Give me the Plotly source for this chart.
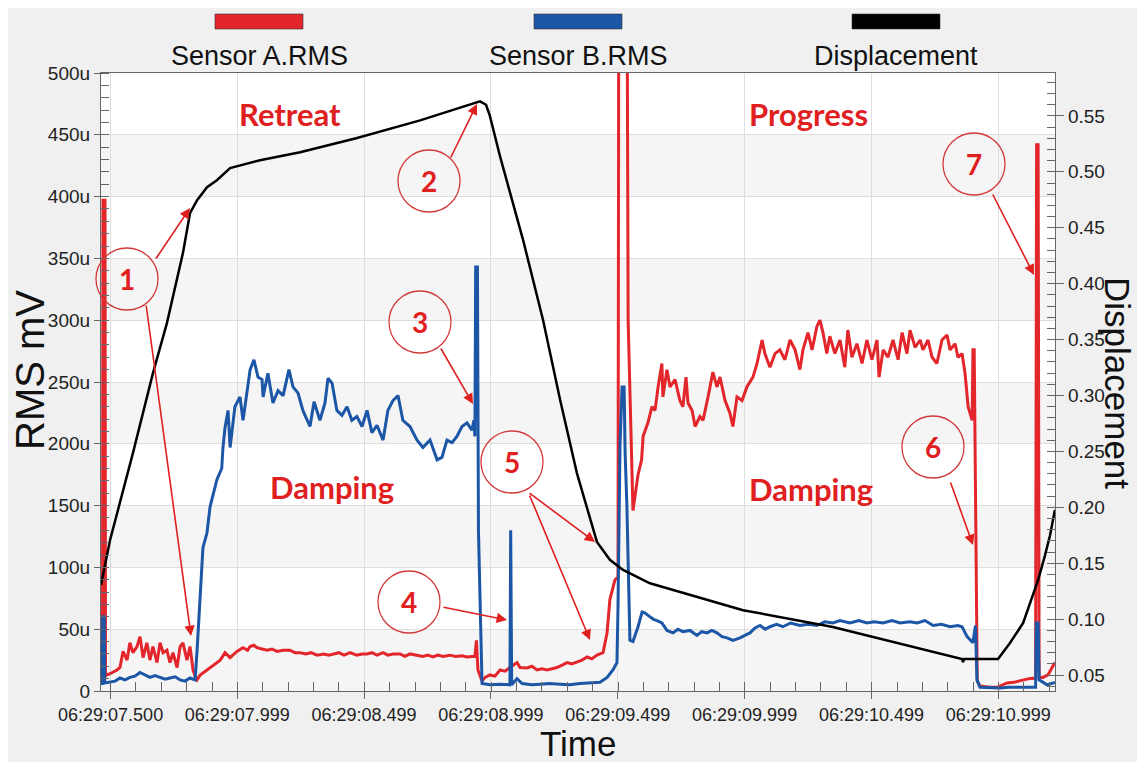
import plotly.graph_objects as go

# ---------------- data (time in s after 06:29:07.500) ----------------
sensor_a_points = [(-0.038, 10), (-0.032, 12), (-0.030, 397), (-0.022, 397), (-0.020, 12), (-0.014, 13), (-0.002, 14), (0.009, 15), (0.025, 17), (0.037, 19), (0.049, 32), (0.065, 25), (0.076, 39), (0.088, 31), (0.104, 36), (0.116, 44), (0.128, 27), (0.143, 39), (0.155, 25), (0.167, 36), (0.183, 23), (0.195, 39), (0.207, 31), (0.222, 33), (0.234, 23), (0.246, 31), (0.262, 19), (0.274, 36), (0.285, 39), (0.301, 25), (0.313, 36), (0.325, 17), (0.333, 12), (0.341, 9), (0.353, 13), (0.380, 17), (0.404, 21), (0.432, 25), (0.451, 31), (0.471, 27), (0.498, 32), (0.522, 35), (0.540, 33), (0.550, 36), (0.565, 37), (0.577, 35), (0.597, 34), (0.617, 33), (0.636, 34), (0.656, 32), (0.680, 33), (0.707, 33), (0.727, 31), (0.747, 31), (0.770, 30), (0.790, 31), (0.814, 29), (0.840, 30), (0.860, 29), (0.877, 30), (0.900, 31), (0.920, 29), (0.944, 31), (0.970, 29), (0.991, 30), (1.011, 30), (1.030, 31), (1.050, 29), (1.074, 31), (1.093, 29), (1.113, 30), (1.141, 30), (1.160, 28), (1.180, 30), (1.208, 29), (1.231, 28), (1.250, 29), (1.271, 27.5), (1.290, 29), (1.310, 28), (1.338, 29), (1.360, 28), (1.385, 28.5), (1.405, 27.5), (1.424, 28), (1.436, 28), (1.442, 41), (1.448, 17), (1.464, 8), (1.476, 11), (1.495, 13), (1.515, 12), (1.535, 17), (1.555, 16), (1.574, 19), (1.602, 23), (1.614, 19), (1.641, 18.6), (1.661, 20), (1.681, 17), (1.700, 18), (1.720, 17), (1.740, 18), (1.759, 19), (1.780, 21), (1.799, 23), (1.818, 22), (1.838, 23.5), (1.858, 25), (1.878, 27.5), (1.897, 26), (1.917, 29), (1.941, 31), (1.957, 47), (1.968, 74), (1.988, 90), (2.000, 92), (2.003, 560), (2.036, 560), (2.040, 300), (2.059, 146), (2.079, 175), (2.093, 187), (2.099, 206), (2.118, 217), (2.134, 230), (2.146, 227), (2.158, 246), (2.173, 265), (2.177, 238), (2.193, 260), (2.205, 246), (2.225, 252), (2.244, 235), (2.256, 230), (2.268, 254), (2.276, 233), (2.292, 227), (2.304, 214), (2.323, 222), (2.335, 219), (2.355, 238), (2.374, 258), (2.390, 246), (2.402, 254), (2.422, 235), (2.441, 225), (2.453, 214), (2.469, 238), (2.489, 235), (2.508, 246), (2.532, 254), (2.548, 265), (2.568, 284), (2.579, 273), (2.599, 262), (2.619, 273), (2.638, 276), (2.658, 268), (2.678, 284), (2.698, 276), (2.717, 260), (2.729, 276), (2.749, 290), (2.765, 276), (2.784, 295), (2.796, 300), (2.808, 290), (2.823, 273), (2.835, 287), (2.855, 273), (2.875, 284), (2.894, 262), (2.906, 292), (2.922, 270), (2.942, 281), (2.962, 265), (2.981, 284), (3.001, 268), (3.021, 284), (3.029, 254), (3.045, 276), (3.064, 270), (3.084, 284), (3.104, 268), (3.120, 290), (3.139, 273), (3.151, 292), (3.171, 278), (3.191, 284), (3.202, 276), (3.222, 284), (3.238, 270), (3.257, 265), (3.277, 284), (3.297, 288), (3.309, 276), (3.329, 281), (3.340, 270), (3.356, 273), (3.368, 257), (3.380, 230), (3.396, 219), (3.399, 276), (3.404, 276), (3.407, 209), (3.413, 100), (3.416, 8), (3.427, 4), (3.466, 3), (3.494, 3), (3.534, 6.5), (3.560, 7), (3.597, 9), (3.620, 10), (3.646, 10.5), (3.650, 442), (3.656, 442), (3.660, 11), (3.675, 11), (3.695, 13), (3.711, 19), (3.722, 23)]

sensor_b_points = [(-0.038, 6), (-0.033, 6), (-0.031, 60), (-0.025, 60), (-0.023, 6.5), (-0.002, 7), (0.018, 8), (0.037, 10.5), (0.057, 9), (0.076, 11), (0.096, 12), (0.116, 15), (0.136, 13), (0.155, 11), (0.175, 12.5), (0.195, 11), (0.215, 9.5), (0.234, 10.5), (0.254, 11.5), (0.274, 9), (0.293, 8), (0.313, 10.5), (0.333, 9), (0.341, 33), (0.349, 60), (0.364, 116), (0.380, 128), (0.392, 149), (0.419, 171), (0.438, 180), (0.443, 197), (0.451, 213), (0.463, 227), (0.471, 197), (0.490, 230), (0.510, 238), (0.522, 219), (0.538, 241), (0.550, 260), (0.565, 268), (0.581, 254), (0.597, 252), (0.601, 238), (0.620, 257), (0.640, 233), (0.660, 243), (0.680, 239), (0.703, 260), (0.719, 246), (0.739, 241), (0.758, 227), (0.786, 214), (0.802, 234), (0.825, 219), (0.845, 233), (0.857, 253), (0.873, 249), (0.892, 227), (0.912, 223), (0.932, 230), (0.951, 219), (0.971, 222), (0.991, 214), (1.011, 227), (1.030, 209), (1.050, 215), (1.074, 203), (1.093, 227), (1.113, 235), (1.133, 239), (1.152, 219), (1.180, 214), (1.208, 203), (1.231, 197), (1.259, 203), (1.287, 187), (1.306, 189), (1.326, 203), (1.346, 201), (1.365, 206), (1.385, 214), (1.405, 217), (1.424, 211), (1.432, 219), (1.436, 206), (1.439, 343), (1.446, 343), (1.450, 130), (1.464, 6), (1.495, 5), (1.535, 5.5), (1.574, 5), (1.577, 130), (1.581, 5), (1.602, 10), (1.622, 6), (1.660, 5), (1.693, 5.5), (1.730, 6), (1.772, 5.5), (1.810, 5), (1.851, 6), (1.890, 6.5), (1.929, 7), (1.957, 11), (1.980, 17), (1.996, 23), (2.000, 68), (2.008, 200), (2.016, 246), (2.024, 246), (2.028, 193), (2.035, 150), (2.047, 41), (2.059, 40), (2.079, 52), (2.095, 64), (2.107, 63), (2.126, 60), (2.140, 58), (2.154, 57), (2.173, 55), (2.193, 49), (2.217, 47), (2.236, 50), (2.256, 48), (2.284, 49), (2.311, 45), (2.330, 48), (2.351, 47), (2.370, 49), (2.390, 47), (2.410, 44), (2.430, 43), (2.453, 41), (2.481, 43), (2.500, 45), (2.520, 47), (2.540, 51), (2.560, 53), (2.580, 50), (2.599, 52), (2.625, 54), (2.650, 52), (2.680, 55), (2.717, 53), (2.750, 54), (2.784, 53), (2.815, 56), (2.847, 55), (2.875, 57), (2.914, 55), (2.950, 57), (2.981, 55), (3.010, 56), (3.045, 55), (3.080, 57), (3.112, 55), (3.150, 56), (3.179, 55), (3.210, 57), (3.242, 53), (3.275, 54), (3.309, 52), (3.340, 53), (3.356, 52), (3.376, 44), (3.399, 39), (3.409, 53), (3.415, 9), (3.427, 3), (3.470, 2.5), (3.506, 2.4), (3.540, 3), (3.573, 3), (3.610, 3.5), (3.646, 3), (3.649, 55), (3.656, 55), (3.660, 9), (3.691, 5), (3.722, 7)]

displacement_points = [(-0.038, 0.1305), (-0.002, 0.1707), (0.088, 0.2485), (0.167, 0.320), (0.222, 0.3647), (0.285, 0.4273), (0.313, 0.463), (0.341, 0.4747), (0.380, 0.4863), (0.419, 0.4925), (0.471, 0.5033), (0.589, 0.5104), (0.747, 0.5176), (0.968, 0.530), (1.220, 0.546), (1.417, 0.560), (1.456, 0.563), (1.480, 0.560), (1.495, 0.550), (1.535, 0.514), (1.626, 0.439), (1.705, 0.367), (1.772, 0.296), (1.838, 0.2306), (1.917, 0.169), (1.968, 0.153), (2.020, 0.144), (2.126, 0.132), (2.493, 0.108), (2.847, 0.0929), (3.356, 0.0643), (3.360, 0.0616), (3.364, 0.0643), (3.498, 0.0643), (3.545, 0.0786), (3.597, 0.0965), (3.636, 0.1233), (3.656, 0.135), (3.683, 0.157), (3.703, 0.175), (3.722, 0.1975)]

x_tick_values = [0.0, 0.499, 0.999, 1.499, 1.999, 2.499, 2.999, 3.499]
x_tick_labels = ["06:29:07.500", "06:29:07.999", "06:29:08.499", "06:29:08.999",
                 "06:29:09.499", "06:29:09.999", "06:29:10.499", "06:29:10.999"]
rms_tick_values = [0, 50, 100, 150, 200, 250, 300, 350, 400, 450, 500]
rms_tick_labels = ["0", "50u", "100u", "150u", "200u", "250u", "300u", "350u", "400u", "450u", "500u"]
disp_tick_values = [0.05, 0.10, 0.15, 0.20, 0.25, 0.30, 0.35, 0.40, 0.45, 0.50, 0.55]
disp_tick_labels = ["0.05", "0.10", "0.15", "0.20", "0.25", "0.30", "0.35", "0.40", "0.45", "0.50", "0.55"]
series_names = ["Sensor A.RMS", "Sensor B.RMS", "Displacement"]

# ---------------- style ----------------
RED = "#e3262b"
BLUE = "#1c56a6"
BLACK = "#000000"
ANN_RED = "#e0201f"
FONT = "Liberation Sans, Arial, sans-serif"
BOLD_FONT = "Lato, Liberation Sans, Arial, sans-serif"
OFF = 8                      # page body margin
W, H = 1145 - OFF, 762 - OFF
PL, PR, PT, PB = 101, 1055, 73, 691   # plot area in page pixels


def px(x):
    return (x - PL) / (PR - PL)


def py(y):
    return (PB - y) / (PB - PT)


fig = go.Figure()
for pts, name, col in [(sensor_a_points, series_names[0], RED),
                       (sensor_b_points, series_names[1], BLUE)]:
    fig.add_trace(go.Scatter(x=[p[0] for p in pts], y=[p[1] for p in pts], mode="lines",
                             name=name, line=dict(color=col, width=3), showlegend=False))
fig.add_trace(go.Scatter(x=[p[0] for p in displacement_points], y=[p[1] for p in displacement_points],
                         mode="lines", name=series_names[2], yaxis="y2",
                         line=dict(color=BLACK, width=2.5), showlegend=False))

shapes = []
for lo in [0, 100, 200, 300, 400]:
    shapes.append(dict(type="rect", xref="x domain", yref="y", x0=0, x1=1, y0=lo, y1=lo + 50,
                       fillcolor="#f5f5f5", line=dict(width=0), layer="below"))
legend_cols = [RED, BLUE, BLACK]
legend_x = [259, 578, 896]
for cx, col in zip(legend_x, legend_cols):
    shapes.append(dict(type="rect", xref="paper", yref="paper", x0=px(cx - 44), x1=px(cx + 44),
                       y0=py(29), y1=py(14), fillcolor=col, line=dict(color="#333", width=0.6)))
circles = [("1", 127, 279), ("2", 429, 181), ("3", 420, 322), ("4", 409, 602),
           ("5", 512, 462), ("6", 933, 447), ("7", 974, 164)]
R = 31
for lab, cx, cy in circles:
    shapes.append(dict(type="circle", xref="paper", yref="paper", x0=px(cx - R), x1=px(cx + R),
                       y0=py(cy + R), y1=py(cy - R), line=dict(color="#d23a3a", width=1.3)))

annotations = []


def label(text, x, y, size, family=FONT, color="#111", angle=0):
    annotations.append(dict(x=px(x), y=py(y), xref="paper", yref="paper", text=text, showarrow=False,
                            textangle=angle, font=dict(family=family, size=size, color=color),
                            xanchor="center", yanchor="middle"))


for name, cx in zip(series_names, legend_x):
    label(name, cx, 56, 27)
for lab, cx, cy in circles:
    label("<b>%s</b>" % lab, cx, cy, 28, BOLD_FONT, ANN_RED)
for txt, cx, cy in [("Retreat", 290, 114), ("Progress", 808, 114), ("Damping", 332, 487), ("Damping", 811, 489)]:
    label("<b>%s</b>" % txt, cx, cy, 31, BOLD_FONT, ANN_RED)
arrows = [((155, 260), (190, 208)), ((146, 304), (191, 636)), ((450, 159), (477, 104)),
          ((440, 347), (473, 404)), ((442, 607), (507, 620)), ((528, 492), (595, 542)),
          ((529, 494), (590, 640)), ((950, 481), (973, 545)), ((992, 193), (1034, 275))]
for (tx, ty), (hx, hy) in arrows:
    annotations.append(dict(x=px(hx), y=py(hy), xref="paper", yref="paper", text="", showarrow=True,
                            ax=tx - hx, ay=ty - hy, axref="pixel", ayref="pixel",
                            arrowhead=2, arrowsize=1.3, arrowwidth=1.6, arrowcolor=ANN_RED))
label("RMS mV", 30, 370, 40, angle=-90)
label("Displacement", 1117, 383, 35, angle=90)
label("Time", 578, 743, 35)

axis_line = "#666666"
fig.update_layout(
    width=W, height=H, autosize=False,
    margin=dict(l=PL - OFF, r=(OFF + W) - PR, t=PT - OFF, b=(OFF + H) - PB, pad=0),
    paper_bgcolor="#f0f0f0", plot_bgcolor="white",
    font=dict(family=FONT, color="#222"),
    showlegend=False,
    shapes=shapes, annotations=annotations,
    xaxis=dict(range=[-0.0378, 3.7225], tickmode="array", tickvals=x_tick_values, ticktext=x_tick_labels,
               ticks="outside", ticklen=7, tickcolor=axis_line, showline=True, linecolor=axis_line,
               linewidth=1.2, mirror=True, showgrid=True, gridcolor="#dedede", zeroline=False,
               tickfont=dict(size=18, color="#222"),
               minor=dict(tickmode="linear", tick0=0, dtick=0.1, ticks="inside", ticklen=9,
                          tickcolor=axis_line, showgrid=False)),
    yaxis=dict(range=[0, 500], tickmode="array", tickvals=rms_tick_values, ticktext=rms_tick_labels,
               ticks="outside", ticklen=6, tickcolor=axis_line, showline=True, linecolor=axis_line,
               linewidth=1.2, showgrid=True, gridcolor="#dedede", zeroline=False,
               tickfont=dict(size=19, color="#222"),
               minor=dict(tickmode="linear", tick0=0, dtick=10, ticks="inside", ticklen=8,
                          tickcolor=axis_line, showgrid=False)),
    yaxis2=dict(range=[0.0357, 0.5884], overlaying="y", side="right", tickmode="array",
                tickvals=disp_tick_values, ticktext=disp_tick_labels, ticks="outside", ticklen=8,
                tickcolor=axis_line, showline=True, linecolor=axis_line, linewidth=1.2, showgrid=False,
                zeroline=False, tickfont=dict(size=19, color="#222"),
                minor=dict(tickmode="linear", tick0=0, dtick=0.01, ticks="inside", ticklen=8,
                           tickcolor=axis_line, showgrid=False)),
)

fig.write_html("out.html")
